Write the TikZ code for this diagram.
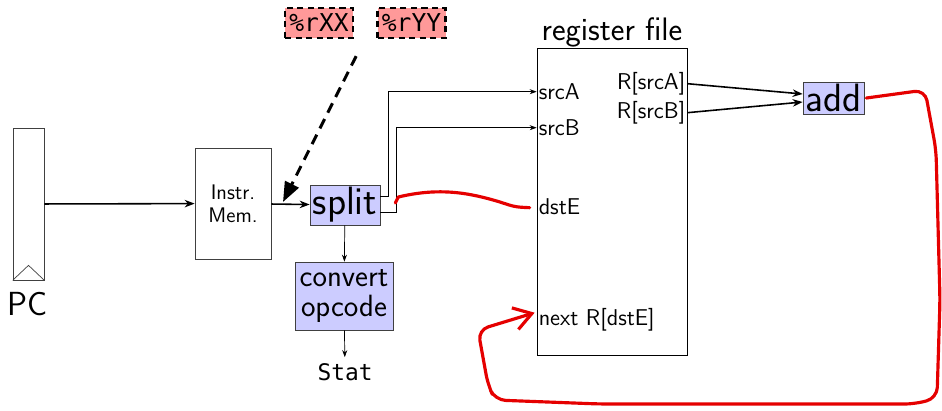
\documentclass[tikz,border=0pt]{standalone}
\usepackage{fontspec}
\newfontfamily\codefont{DejaVu Sans Mono}
\usetikzlibrary{arrows.meta}
\tikzset{
  unit/.style={draw=black!75, text=black, inner sep=1pt, align=center, font=\sffamily\fontsize{12}{13}\selectfont},
  hcl/.style={unit, fill=blue!20, font=\sffamily\fontsize{22.5}{22}\selectfont},
  port/.style={inner sep=1pt, font=\sffamily\fontsize{13}{14}\selectfont},
  operand/.style={draw, line width=1.3pt, dash pattern=on 3.5pt off 2.5pt, fill=red!40, inner sep=1pt,
    minimum width=1.36cm, minimum height=0.6cm, font=\codefont\fontsize{14}{16}\selectfont},
  wire/.style={-{Stealth[length=1.4mm, width=1mm]}, thin},
  bus/.style={-{Stealth[length=2mm]}, line width=0.9pt},
  hint/.style={line width=1.7pt, dash pattern=on 6pt off 4pt, -{Triangle[length=4mm, width=3mm]}},
  scribble/.style={red!90!black, line width=1.8pt, line cap=round, line join=round},
}
\begin{document}
\begin{tikzpicture}[x=0.02cm, y=-0.02cm]
    \useasboundingbox (0,0) rectangle (942,410);
    % fetch side
    \node[draw=black!75, minimum width=0.62cm, minimum height=3.04cm] (pc) at (28.5,204) {};
    \draw[black!75] (pc.south west) -- ([yshift=0.3cm]pc.south) -- (pc.south east);
    \node[font=\sffamily\fontsize{19}{20}\selectfont] (pclabel) at (28,304) {PC};
    \node[unit, minimum width=1.52cm, minimum height=2.22cm] (imem) at (233,203.5) {Instr.\\Mem.};
    \node[hcl, minimum width=1.4cm, minimum height=0.8cm] (split) at (345,205) {split};
    \node[hcl, font=\sffamily\fontsize{17.5}{17}\selectfont, minimum width=1.96cm, minimum height=1.36cm] (conv) at (344,296) {convert\\opcode};
    \node[font=\codefont\fontsize{13}{14}\selectfont] (stat) at (345,372) {Stat};
    \node[operand] (rxx) at (319,23) {\%rXX};
    \node[operand] (ryy) at (411.5,23) {\%rYY};
    % register file
    \node[draw, minimum width=3cm, minimum height=6.14cm,
      label={[font=\sffamily\fontsize{18.5}{19}\selectfont, inner sep=0pt, label distance=0pt]above:register file}] (rf) at (612,201.5) {};
    \node[port, anchor=west] (srcA) at ([shift={(0,44)}]rf.north west) {srcA};
    \node[port, anchor=west] (srcB) at ([shift={(0,80)}]rf.north west) {srcB};
    \node[port, anchor=west] (dstE) at ([shift={(0,159)}]rf.north west) {dstE};
    \node[port, anchor=west] (nextR) at ([shift={(0,272)}]rf.north west) {next R[dstE]};
    \node[port, anchor=east] (rsrcA) at ([shift={(0,36)}]rf.north east) {R[srcA]};
    \node[port, anchor=east] (rsrcB) at ([shift={(0,65)}]rf.north east) {R[srcB]};
    \node[hcl, minimum width=1.22cm, minimum height=0.64cm] (add) at (833.5,98) {add};
    % wires
    \draw[bus] (pc) -- (imem);
    \draw[bus] (imem) -- (split);
    \coordinate (hit) at (283,202);
    \draw[hint] ([shift={(2,17)}]rxx.south east) -- (hit);
    \draw[wire] (split) -- (conv);
    \draw[wire] (conv) -- (stat);
    \draw[wire] ([yshift=0.18cm]split.east) -- ++(8,0) |- (srcA.west);
    \draw[wire] ([yshift=-0.14cm]split.east) -- ++(16,0) |- (srcB.west);
    \draw[bus] (rsrcA.east) -- ([yshift=0.08cm]add.west);
    \draw[bus] (rsrcB.east) -- ([yshift=-0.08cm]add.west);
    % hand-drawn marks
    \draw[scribble] ([shift={(15,-2)}]split.east) -- ++(3,-6) .. controls (440,187) and (470,193) .. (500,202)
      .. controls (515,207) .. ([shift={(-7,1)}]dstE.west);
    \draw[scribble, rounded corners=6pt, -{Straight Barb[length=3.5mm, width=4.5mm]}]
      ([shift={(2,0)}]add.east) -- (925,90) -- (936,150) -- (940,300) -- (937,398) -- (915,404)
      -- (600,404) -- (495,400) -- (488,385) -- (478,330) -- ([shift={(-2,-7)}]nextR.west);
  \end{tikzpicture}
\end{document}
